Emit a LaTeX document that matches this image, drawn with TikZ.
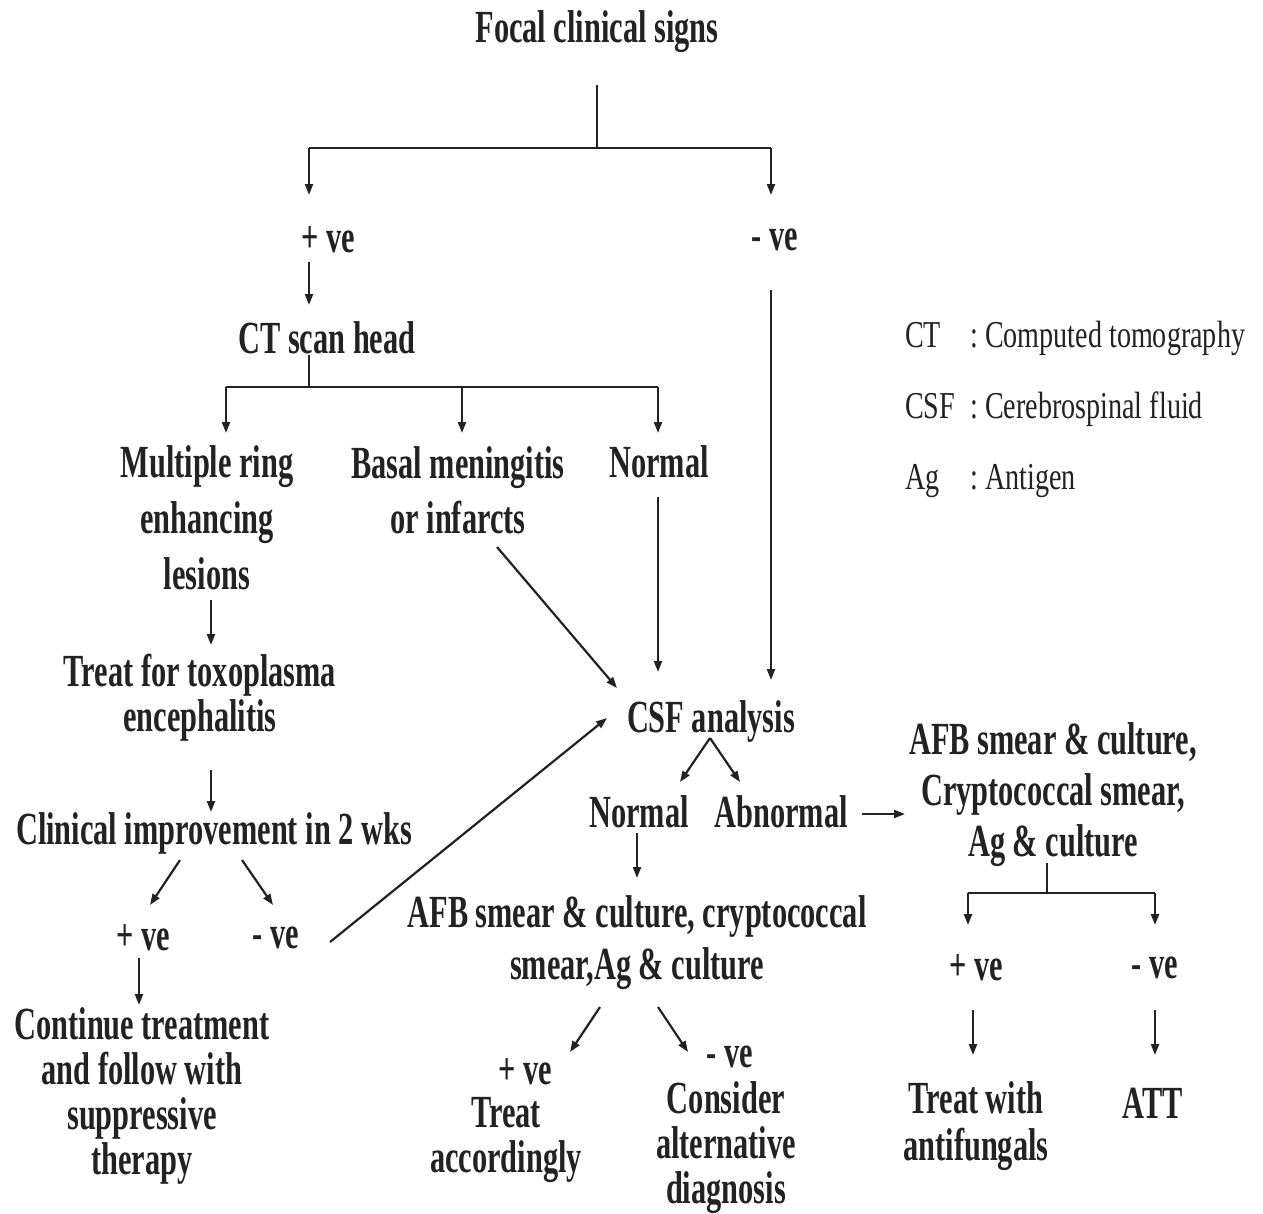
\documentclass[tikz,border=0pt]{standalone}
\usepackage{fontspec}
\setmainfont{Liberation Serif}[FakeStretch=0.66]
\newfontfamily\legfont{Liberation Serif}[FakeStretch=0.74]
\usetikzlibrary{arrows.meta,calc}
\definecolor{ink}{HTML}{222222}
\tikzset{
  txt/.style={font=\fontsize{46}{#1}\selectfont\bfseries, text=ink, inner sep=0pt, align=center},
  txt/.default=56,
  leg/.style={font=\fontsize{38}{44}\selectfont\legfont, text=ink, inner sep=0pt, anchor=base west},
  ln/.style={draw=ink, line width=2.2pt},
  arr/.style={ln, -{Triangle[length=11pt,width=8pt]}},
}
\begin{document}
\begin{tikzpicture}[x=1pt,y=-1pt]
\useasboundingbox[fill=white] (0,0) rectangle (1263,1213);
% nodes
\node[txt] (title) at (597,32) {Focal clinical signs};
\node[txt] (pos1) at (328,240) {+ ve};
\node[txt] (neg1) at (775,240) {- ve};
\node[txt] (ct) at (327,338) {CT scan head};
\node[txt=56] (mrel) at (207,518) {Multiple ring\\enhancing\\lesions};
\node[txt=55] (basal) at (458,490) {Basal meningitis\\or infarcts};
\node[txt] (normal1) at (659,462) {Normal};
\node[txt=45] (toxo) at (200,698) {Treat for toxoplasma\\encephalitis};
\node[txt] (clin) at (214,833) {Clinical improvement in 2 wks};
\node[txt] (pos2) at (143,938) {+ ve};
\node[txt] (neg2) at (276,938) {- ve};
\node[txt=45] (cont) at (142,1096) {Continue treatment\\and follow with\\suppressive\\therapy};
\node[txt] (csf) at (711,721) {CSF analysis};
\node[txt] (normal2) at (639,812) {Normal};
\node[txt] (abn) at (781,812) {Abnormal};
\node[txt=51] (afbR) at (1053,795) {AFB smear \& culture,\\Cryptococcal smear,\\Ag \& culture};
\node[txt] (pos3) at (976,968) {+ ve};
\node[txt] (neg3) at (1155,968) {- ve};
\node[txt=47] (twa) at (976,1126) {Treat with\\antifungals};
\node[txt] (att) at (1153,1103) {ATT};
\node[txt=52] (afbM) at (637,943) {AFB smear \& culture, cryptococcal\\smear,Ag \& culture};
\node[txt] (pos4) at (525,1072) {+ ve};
\node[txt=45] (treat) at (506,1140) {Treat\\accordingly};
\node[txt] (neg4) at (730,1057) {- ve};
\node[txt=45] (consider) at (726,1148) {Consider\\alternative\\diagnosis};
% legend
\node[leg] (lct) at (905,347) {CT};
\node[leg] (lctt) at (970,347) {:\ Computed tomography};
\node[leg] (lcsf) at (905,418) {CSF};
\node[leg] (lcsft) at (970,418) {:\ Cerebrospinal fluid};
\node[leg] (lag) at (905,489) {Ag};
\node[leg] (lagt) at (970,489) {:\ Antigen};
% junctions
\coordinate (j1) at (597,148);
\coordinate (j1L) at (309,148);
\coordinate (j1R) at (771,148);
\coordinate (j2) at (309,387);
\coordinate (j2L) at (226,387);
\coordinate (j2M) at (462,387);
\coordinate (j2R) at (658,387);
\coordinate (j3) at (1047,893);
\coordinate (j3L) at (968,893);
\coordinate (j3R) at (1155,893);
% connectors
\draw[ln] ($(title)+(0,53)$) -- (j1);
\draw[ln] (j1L) -- (j1R);
\draw[arr] (j1L) -- ($(pos1)+(-19,-45)$);
\draw[arr] (j1R) -- ($(neg1)+(-4,-45)$);
\draw[arr] ($(pos1)+(-19,22)$) -- ($(ct)+(-18,-33)$);
\draw[ln] ($(ct)+(-18,17)$) -- (j2);
\draw[ln] (j2L) -- (j2R);
\draw[arr] (j2L) -- ($(mrel)+(19,-85)$);
\draw[arr] (j2M) -- ($(basal)+(4,-57)$);
\draw[arr] (j2R) -- ($(normal1)+(-1,-29)$);
\draw[arr] ($(normal1)+(-1,35)$) -- ($(csf)+(-53,-49)$);
\draw[arr] ($(basal)+(39,57)$) -- ($(csf)+(-94,-33)$);
\draw[arr] ($(neg1)+(-4,50)$) -- ($(csf)+(60,-41)$);
\draw[arr] ($(mrel)+(4,82)$) -- ($(toxo)+(11,-53)$);
\draw[arr] ($(toxo)+(11,72)$) -- ($(clin)+(-3,-21)$);
\draw[arr] ($(clin)+(-34,27)$) -- ($(pos2)+(7,-33)$);
\draw[arr] ($(clin)+(28,27)$) -- ($(neg2)+(-3,-33)$);
\draw[arr] ($(neg2)+(54,4)$) -- ($(csf)+(-104,-3)$);
\draw[arr] ($(pos2)+(-4,20)$) -- ($(cont)+(-3,-91)$);
\draw[arr] ($(csf)+(-1,17)$) -- ($(normal2)+(41,-30)$);
\draw[arr] ($(csf)+(-1,17)$) -- ($(abn)+(-41,-30)$);
\draw[arr] ($(abn)+(81,2)$) -- ($(afbR)+(-148,19)$);
\draw[ln] ($(afbR)+(-6,68)$) -- (j3);
\draw[ln] (j3L) -- (j3R);
\draw[arr] (j3L) -- ($(pos3)+(-8,-43)$);
\draw[arr] (j3R) -- ($(neg3)+(0,-43)$);
\draw[arr] ($(pos3)+(-3,42)$) -- ($(twa)+(-3,-71)$);
\draw[arr] ($(neg3)+(0,42)$) -- ($(att)+(2,-48)$);
\draw[arr] ($(normal2)+(-2,21)$) -- ($(afbM)+(0,-65)$);
\draw[arr] ($(afbM)+(-37,64)$) -- ($(pos4)+(45,-20)$);
\draw[arr] ($(afbM)+(21,64)$) -- ($(neg4)+(-42,-5)$);
\end{tikzpicture}
\end{document}
